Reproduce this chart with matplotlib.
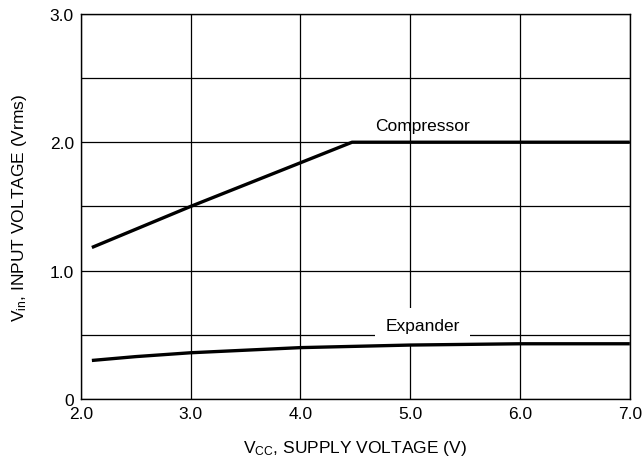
import numpy as np
import matplotlib
matplotlib.use("Agg")
import matplotlib.pyplot as plt

fam = ['Liberation Sans', 'DejaVu Sans']
plt.rcParams['font.family'] = fam
plt.rcParams['mathtext.fontset'] = 'custom'
plt.rcParams['mathtext.rm'] = fam[0]
plt.rcParams['mathtext.it'] = fam[0]

# Supply voltage (V) vs input voltage (Vrms)
comp_vcc = [2.1, 3.0, 4.0, 4.47, 5.0, 6.0, 7.0]
comp_vin = [1.18, 1.50, 1.84, 2.0, 2.0, 2.0, 2.0]

exp_vcc = [2.1, 2.5, 3.0, 3.5, 4.0, 5.0, 6.0, 7.0]
exp_vin = [0.30, 0.33, 0.36, 0.38, 0.40, 0.42, 0.43, 0.43]

xticks = [2.0, 3.0, 4.0, 5.0, 6.0, 7.0]
yticks = [0, 1.0, 2.0, 3.0]
ylabels = ['0', '1.0', '2.0', '3.0']

fs = 12.5

fig = plt.figure(figsize=(6.42, 4.64), dpi=100)
ax = fig.add_axes([0.126, 0.138, 0.855, 0.830])

ax.plot(comp_vcc, comp_vin, color='black', lw=2.4, solid_capstyle='butt', zorder=3)
ax.plot(exp_vcc, exp_vin, color='black', lw=2.4, solid_capstyle='butt', zorder=3)

ax.set_xlim(2.0, 7.0)
ax.set_ylim(0, 3.0)
ax.set_xticks(xticks)
ax.set_xticklabels(['%.1f' % v for v in xticks])
ax.set_yticks(yticks)
ax.set_yticklabels(ylabels)
ax.set_yticks(np.arange(0, 3.01, 0.5), minor=True)
ax.grid(True, which='both', color='black', lw=0.9)
ax.tick_params(length=0, labelsize=fs, pad=5)
ax.tick_params(which='minor', length=0)
for s in ax.spines.values():
    s.set_linewidth(1.0)

ax.text(5.11, 2.13, 'Compressor', ha='center', va='center', fontsize=fs, zorder=4)
ax.text(5.11, 0.57, 'Expander', ha='center', va='center', fontsize=fs, zorder=2.5,
        bbox=dict(boxstyle='square,pad=0.6', facecolor='white', edgecolor='none'))

ax.set_xlabel(r'V$_{\mathrm{CC}}$, SUPPLY VOLTAGE (V)', fontsize=fs, labelpad=12)
ax.set_ylabel(r'V$_{\mathrm{in}}$, INPUT VOLTAGE (Vrms)', fontsize=fs, labelpad=15)

fig.savefig('out.png', dpi=100)
